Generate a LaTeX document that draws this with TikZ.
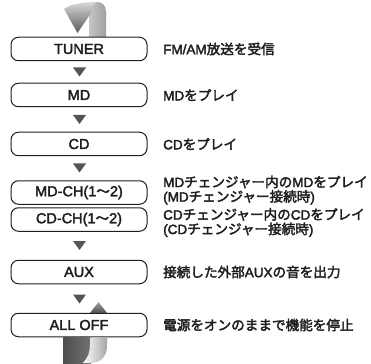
\documentclass[tikz,border=0pt]{standalone}
\usepackage{fontspec}
\setmainfont{Liberation Sans}
\newfontfamily\jp{Noto Sans CJK JP}
\definecolor{ink}{HTML}{1E1E1E}
\definecolor{tri}{HTML}{555555}
\newcommand{\heavy}[1]{\special{pdf:literal direct 2 Tr 0.35 w}#1\special{pdf:literal direct 0 Tr}}
\tikzset{
  modebox/.style={draw=ink, line width=1pt, rounded corners=7.5pt, minimum width=136pt, minimum height=23.5pt, inner sep=0pt, font=\fontsize{14.5}{14}\selectfont, text=ink},
  desc/.style={anchor=west, align=left, inner sep=0pt, font=\fontsize{13.5}{14.5}\selectfont, text=ink},
}
\newcommand{\jw}[1]{{\jp\fontsize{13.6}{14.5}\selectfont #1}}
\begin{document}
\begin{tikzpicture}[x=1pt,y=-1pt]
\useasboundingbox (0,0) rectangle (371,363);
% top ribbon
\shade[left color=gray!45, right color=gray!75] (89,37) -- (89,12) .. controls (89,5) and (92,2) .. (97,2) .. controls (102,2) and (106,5) .. (106,12) -- (106,37) -- cycle;
\shade[top color=gray!30, bottom color=black!65] (64,9) .. controls (72,3) and (88,2) .. (97,2) .. controls (93,4) and (91,8) .. (91,13) -- (77.5,33) -- cycle;
% boxes
\node[modebox] (tuner) at (79,49) {\heavy{TUNER}};
\node[modebox] (md) at (79,95) {\heavy{MD}};
\node[modebox] (cd) at (79,144) {\heavy{CD}};
\node[modebox] (mdch) at (79,192.5) {\heavy{MD-CH(1\jw{～}2)}};
\node[modebox] (cdch) at (79,219.5) {\heavy{CD-CH(1\jw{～}2)}};
\node[modebox] (aux) at (79,272) {\heavy{AUX}};
\node[modebox] (alloff) at (79,325) {\heavy{ALL OFF}};
% down triangles
\coordinate (t1) at (79.5,72);
\coordinate (t2) at (79.5,119.5);
\coordinate (t3) at (79.5,168);
\coordinate (t4) at (79.5,245.5);
\coordinate (t5) at (79.5,299);
\foreach \t in {t1,t2,t3,t4,t5}
  \fill[tri] ([shift={(-6.5,-4.5)}]\t) -- ([shift={(6.5,-4.5)}]\t) -- ([shift={(0,4.5)}]\t) -- cycle;
% up triangle
\coordinate (up) at (98.5,302);
\shade[top color=gray!70, bottom color=black!70] (up) -- (107,313) -- (90,313) -- cycle;
% bottom ribbon
\shade[left color=black!70, right color=black!55] (63,337.5) -- (63,363) -- (91,363) -- (91,337.5) -- cycle;
\shade[left color=white, right color=gray!70] (90,337.5) -- (107,337.5) -- (107,346) .. controls (107,356) and (101,363) .. (90,363) -- (83,363) .. controls (88,358) and (90,352) .. (90,345) -- cycle;
% descriptions
\node[desc] (dtuner) at (163,49) {\heavy{FM/AM\jw{放送を受信}}};
\node[desc] (dmd) at (163,95) {\heavy{MD\jw{をプレイ}}};
\node[desc] (dcd) at (163,144) {\heavy{CD\jw{をプレイ}}};
\node[desc] (dmdch) at (163,190) {\heavy{MD\jw{チェンジャー内の}MD\jw{をプレイ}}\\\heavy{(MD\jw{チェンジャー接続時})}};
\node[desc] (dcdch) at (163,222.5) {\heavy{CD\jw{チェンジャー内の}CD\jw{をプレイ}}\\\heavy{(CD\jw{チェンジャー接続時})}};
\node[desc] (daux) at (163,272) {\heavy{\jw{接続した外部}AUX\jw{の音を出力}}};
\node[desc] (dalloff) at (163,325) {\heavy{\jw{電源をオンのままで機能を停止}}};
\end{tikzpicture}
\end{document}
